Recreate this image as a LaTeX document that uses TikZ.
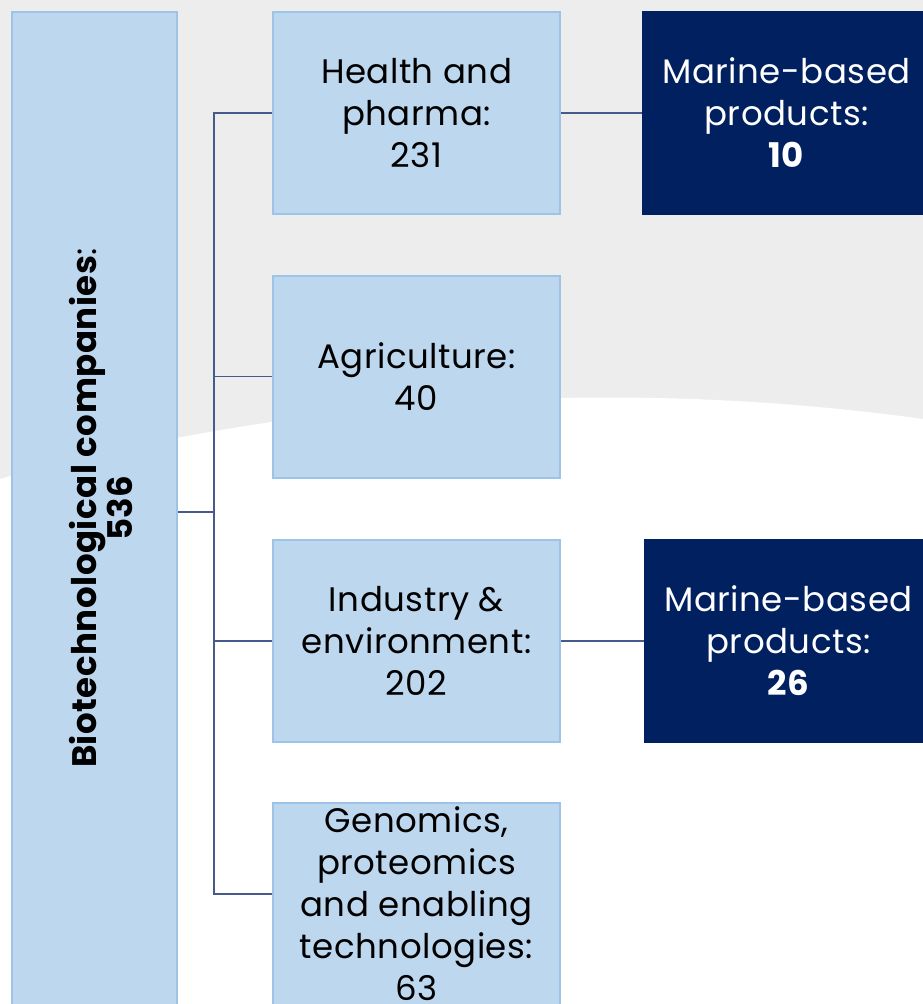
\documentclass[tikz,border=0pt]{standalone}
\usepackage{fontspec}
\setmainfont{Poppins}[LetterSpace=1.5]
\definecolor{boxfill}{HTML}{BDD7EE}
\definecolor{boxline}{HTML}{9DC3E6}
\definecolor{navy}{HTML}{002060}
\definecolor{linkcol}{RGB}{70,90,140}
\definecolor{backgray}{HTML}{EDEDED}
\tikzset{
 sector/.style={draw=boxline,line width=2pt,fill=boxfill,minimum width=287pt,minimum height=202pt,
  align=center,inner sep=0pt,font=\fontsize{34}{42}\selectfont},
 marine/.style={sector,draw=navy,fill=navy,text=white},
 link/.style={draw=linkcol,line width=1.3pt}
}
\begin{document}
\begin{tikzpicture}[x=1pt,y=-1pt]
\clip (0,0) rectangle (923,1004);
\fill[backgray] (0,0) rectangle (923,1004);
\fill[white] (608,2691.5) circle[radius=2294];
\node[sector,minimum width=165pt,minimum height=1000pt] (biotech) at (94.5,512) {};
\node[rotate=90,align=center,font=\fontsize{34}{31}\selectfont] (biotitle) at (101,508)
 {\textbf{Biotechnological companies}:\\\textbf{536}};
\node[sector] (health) at (416.5,113) {Health and\\pharma:\\231};
\node[sector] (agri) at (416.5,376.5) {Agriculture:\\40};
\node[sector] (indus) at (416.5,641) {Industry \&\\environment:\\202};
\node[sector] (genom) at (416.5,904) {Genomics,\\proteomics\\and enabling\\technologies:\\63};
\node[marine] (marine1) at (786.5,113) {Marine-based\\products:\\\textbf{10}};
\node[marine] (marine2) at (788.5,641) {Marine-based\\products:\\\textbf{26}};
\draw[link] (health.west) -- ++(-58,0) |- ([yshift=10pt]genom.west);
\draw[link] (agri.west) -- ++(-58,0);
\draw[link] (indus.west) -- ++(-58,0);
\draw[link] (biotech.east) -- ++(35,0);
\draw[link] (health) -- (marine1);
\draw[link] (indus) -- (marine2);
\end{tikzpicture}
\end{document}
